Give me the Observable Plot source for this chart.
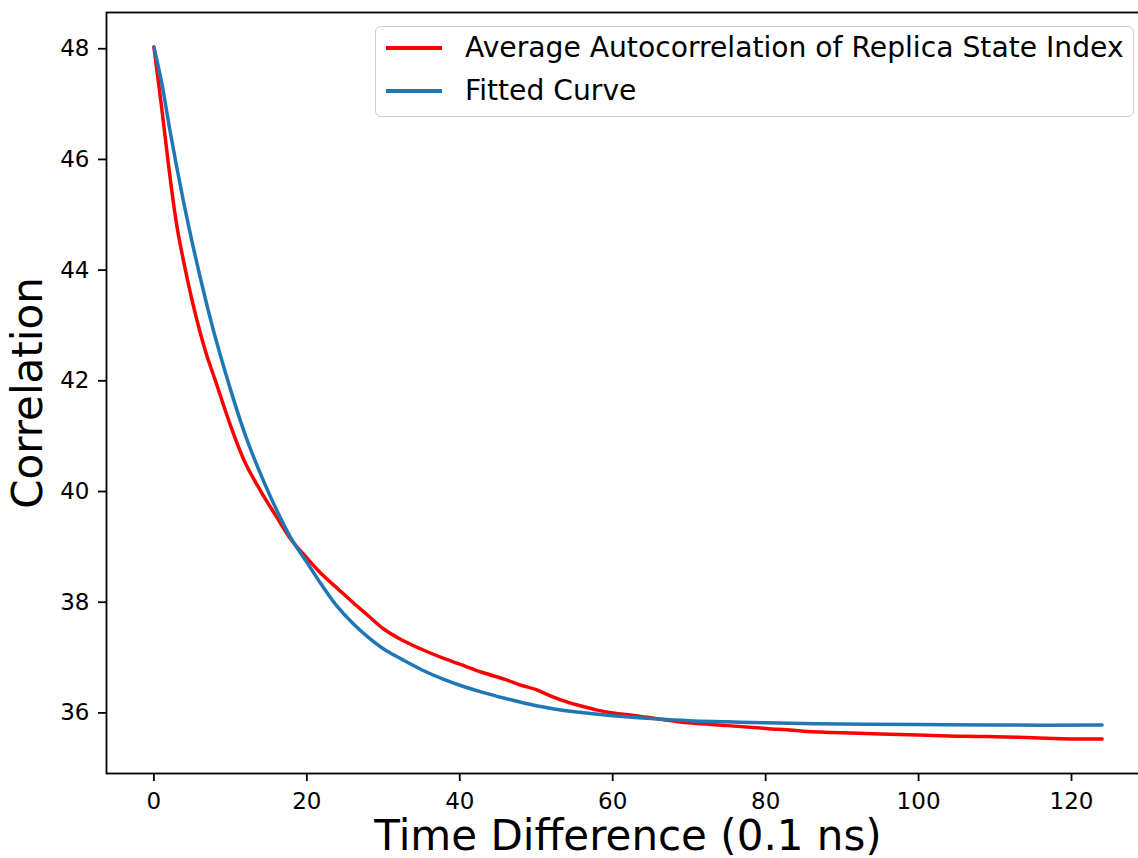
<!DOCTYPE html>
<html>
<head>
<meta charset="utf-8">
<script src="https://cdn.jsdelivr.net/npm/d3@7"></script>
<script src="https://cdn.jsdelivr.net/npm/@observablehq/plot@0.6"></script>
<style>
  html, body { margin: 0; padding: 0; background: white; overflow: hidden; }
  #wrap { position: relative; width: 1138px; height: 858px; overflow: hidden; background: white; }
  #chart svg { max-width: none !important; display: block; }
  #legend { position: absolute; left: 375px; top: 26px; width: 759px; height: 91px; box-sizing: border-box;
            border: 1.5px solid #cccccc; border-radius: 6px; background: rgba(255,255,255,0.8);
            font-family: "DejaVu Sans", sans-serif; font-size: 28.2px; color: black; }
  .row { position: absolute; left: 0; height: 34px; width: 100%; }
  .swatch { position: absolute; left: 10px; width: 56px; height: 3.5px; top: 15px; }
  .lab { position: absolute; left: 89px; top: 0; line-height: 34px; white-space: nowrap; }
</style>
</head>
<body>
<div id="wrap"><div id="chart"></div><div id="legend"></div></div>
<script>
// Series names and colours
const seriesNames = ["Average Autocorrelation of Replica State Index", "Fitted Curve"];
const seriesColors = ["#ff0000", "#1f77b4"];

// Average autocorrelation (red)
const avgX = [0, 1, 2, 3, 4, 5, 6, 7, 8, 10, 12, 14, 16, 18, 20, 22, 24, 26, 28, 30, 32, 35, 38, 40, 43, 46, 48, 50, 52, 54, 56, 58, 60, 63, 66, 70, 75, 80, 85, 90, 95, 100, 105, 110, 115, 120, 124];
const avgY = [48.03, 46.95, 45.8, 44.8, 44.08, 43.45, 42.9, 42.42, 42.02, 41.2, 40.5, 40.0, 39.55, 39.12, 38.8, 38.5, 38.25, 38.0, 37.76, 37.52, 37.35, 37.15, 36.98, 36.88, 36.73, 36.6, 36.5, 36.42, 36.3, 36.2, 36.12, 36.05, 36.0, 35.95, 35.89, 35.82, 35.77, 35.72, 35.67, 35.64, 35.62, 35.6, 35.58, 35.57, 35.55, 35.53, 35.53];

// Fitted curve (blue)
const fitX = [0, 1, 2, 3, 4, 5, 6, 7, 8, 10, 12, 14, 16, 18, 20, 22, 24, 26, 28, 30, 32, 35, 38, 40, 43, 46, 50, 55, 60, 65, 70, 75, 80, 90, 100, 110, 124];
const fitY = [48.03, 47.4, 46.6, 45.85, 45.15, 44.5, 43.9, 43.33, 42.8, 41.85, 41.0, 40.3, 39.68, 39.14, 38.72, 38.3, 37.92, 37.62, 37.37, 37.16, 37.0, 36.78, 36.6, 36.5, 36.37, 36.26, 36.13, 36.02, 35.95, 35.9, 35.86, 35.84, 35.82, 35.8, 35.79, 35.78, 35.78];

// Tick labels
const xTicks = [0, 20, 40, 60, 80, 100, 120];
const yTicks = [36, 38, 40, 42, 44, 46, 48];

const xLabel = "Time Difference (0.1 ns)";
const yLabel = "Correlation";

const avg = avgX.map((x, i) => ({x, y: avgY[i]}));
const fit = fitX.map((x, i) => ({x, y: fitY[i]}));

const chart = Plot.plot({
  width: 1160,
  height: 858,
  marginLeft: 106,
  marginRight: 11,
  marginTop: 12,
  marginBottom: 85,
  style: {fontFamily: "DejaVu Sans, sans-serif", color: "black", background: "white", maxWidth: "none"},
  x: {domain: [-6.2, 130.2]},
  y: {domain: [34.905, 48.655]},
  marks: [
    Plot.line(avg, {x: "x", y: "y", stroke: seriesColors[0], strokeWidth: 3.5, curve: "catmull-rom"}),
    Plot.line(fit, {x: "x", y: "y", stroke: seriesColors[1], strokeWidth: 3.5, curve: "catmull-rom"}),
    Plot.frame({stroke: "black", strokeWidth: 1.8}),
    Plot.axisX({ticks: xTicks, tickSize: 8, tickPadding: 11, fontSize: 23, strokeWidth: 1.8, tickFormat: d => String(d), label: null}),
    Plot.axisY({ticks: yTicks, tickSize: 8, tickPadding: 9, fontSize: 23, strokeWidth: 1.8, tickFormat: d => String(d), label: null}),
    Plot.text([xLabel], {frameAnchor: "bottom", textAnchor: "middle", dy: 76, fontSize: 42, fill: "black"}),
    Plot.text([yLabel], {frameAnchor: "left", textAnchor: "middle", dx: -77.5, rotate: -90, fontSize: 42, fill: "black"})
  ]
});
document.getElementById("chart").appendChild(chart);

const legend = document.getElementById("legend");
const rowTops = [4, 47];
seriesNames.forEach((name, i) => {
  const row = document.createElement("div");
  row.className = "row";
  row.style.top = rowTops[i] + "px";
  const sw = document.createElement("div");
  sw.className = "swatch";
  sw.style.background = seriesColors[i];
  const lab = document.createElement("div");
  lab.className = "lab";
  lab.textContent = name;
  row.appendChild(sw);
  row.appendChild(lab);
  legend.appendChild(row);
});
</script>
</body>
</html>
